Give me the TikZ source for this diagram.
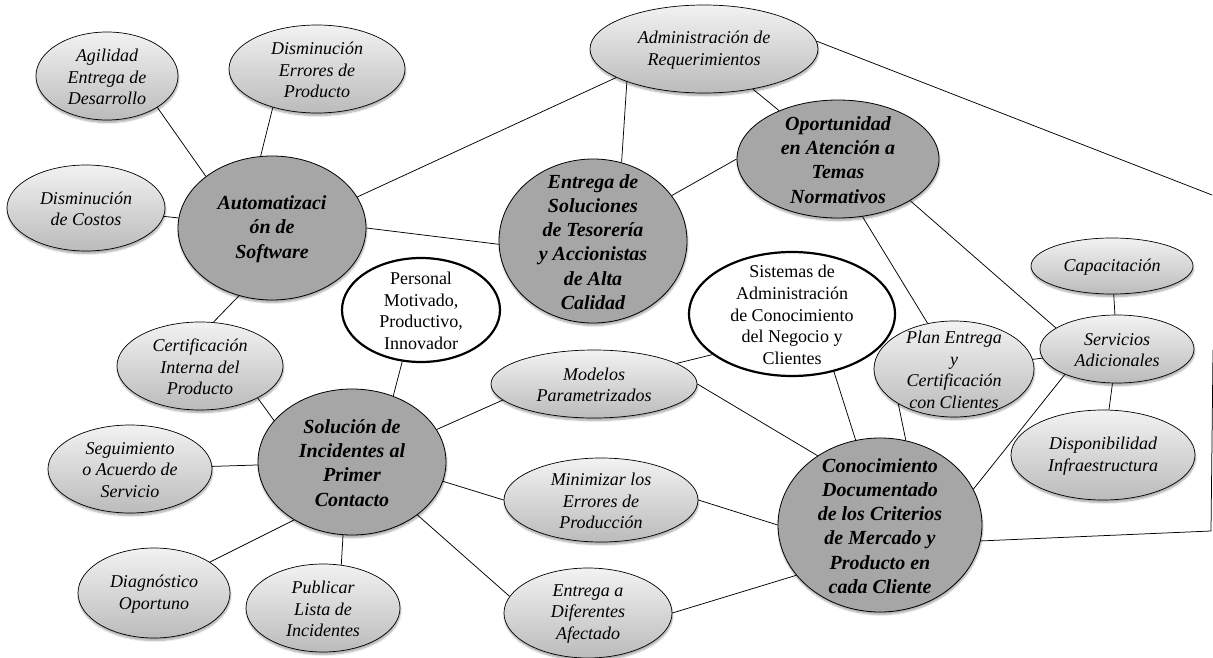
\documentclass[tikz,border=0pt]{standalone}
\usepackage{fontspec}
\setmainfont{Liberation Serif}
\usetikzlibrary{shapes.geometric,shadows.blur}

\definecolor{softTop}{HTML}{F2F2F2}
\definecolor{softBot}{HTML}{BBBBBB}
\definecolor{coreFill}{HTML}{A6A6A6}

\tikzset{
  link/.style={draw=black, line width=0.75pt},
  bshadow/.style={blur shadow={shadow xshift=0.5pt, shadow yshift=-2.5pt, shadow blur steps=6, shadow opacity=35}},
  soft/.style={ellipse, draw=black, line width=0.7pt, top color=softTop, bottom color=softBot, bshadow, inner sep=0pt},
  core/.style={ellipse, draw=black, line width=0.8pt, fill=coreFill, bshadow, inner sep=0pt},
  plain/.style={ellipse, draw=black, line width=2.2pt, fill=white, inner sep=0pt},
  tsoft/.style={align=center, inner sep=0pt, font=\fontsize{18}{21.6}\selectfont\itshape},
  tcore/.style={align=center, inner sep=0pt, font=\fontsize{20}{24.2}\selectfont\bfseries\itshape},
  tplain/.style={align=center, inner sep=0pt, font=\fontsize{18}{21.6}\selectfont},
}

% #1 shape style, #2 name, #3,#4 centre, #5,#6 radii, #7 text style, #8 text
\newcommand\bubble[8]{%
  \node[#1, minimum width=2*#5pt, minimum height=2*#6pt] (#2) at (#3,#4) {};
  \node[#7] (#2-txt) at ([yshift=-1pt]#2.center) {#8};}

\begin{document}
\begin{tikzpicture}[x=1pt, y=-1pt]
\useasboundingbox (0,0) rectangle (1213,658);

% ---- bubbles ----
\bubble{soft}{agil}{107}{76}{71}{44}{tsoft}{Agilidad\\Entrega de\\Desarrollo}
\bubble{soft}{errores}{317}{69}{88}{44}{tsoft}{Disminución\\Errores de\\Producto}
\bubble{soft}{costos}{86}{208}{79}{43}{tsoft}{Disminución\\de Costos}
\bubble{core}{auto}{272}{228}{94}{72}{tcore}{Automatizaci\\ón de\\Software}
\bubble{soft}{adm}{704}{49}{114}{44}{tsoft}{Administración de\\Requerimientos}
\bubble{core}{sol}{593}{241}{94}{82}{tcore}{Entrega de\\Soluciones\\de Tesorería\\y Accionistas\\de Alta\\Calidad}
\bubble{core}{opo}{838}{159}{101}{59}{tcore}{Oportunidad\\en Atención a\\Temas\\Normativos}
\bubble{plain}{pers}{421}{310}{79}{52}{tplain}{Personal\\Motivado,\\Productivo,\\Innovador}
\bubble{plain}{sis}{792}{314}{103}{62}{tplain}{Sistemas de\\Administración\\de Conocimiento\\del Negocio y\\Clientes}
\bubble{soft}{cap}{1112}{266}{81}{28}{tsoft}{Capacitación}
\bubble{soft}{serv}{1117}{349}{77}{34}{tsoft}{Servicios\\Adicionales}
\bubble{soft}{plan}{954}{369}{80}{48}{tsoft}{Plan Entrega\\y\\Certificación\\con Clientes}
\bubble{soft}{disp}{1103}{455}{92}{45}{tsoft}{Disponibilidad\\Infraestructura}
\bubble{core}{con}{880}{525}{102}{87}{tcore}{Conocimiento\\Documentado\\de los Criterios\\de Mercado y\\Producto en\\cada Cliente}
\bubble{soft}{cert}{200}{366}{83}{44}{tsoft}{Certificación\\Interna del\\Producto}
\bubble{core}{inc}{352}{462}{94}{73}{tcore}{Solución de\\Incidentes al\\Primer\\Contacto}
\bubble{soft}{seg}{130}{469}{82}{44}{tsoft}{Seguimiento\\o Acuerdo de\\Servicio}
\bubble{soft}{diag}{154}{593}{76}{45}{tsoft}{Diagnóstico\\Oportuno}
\bubble{soft}{pub}{323}{608}{77}{44}{tsoft}{Publicar\\Lista de\\Incidentes}
\bubble{soft}{mod}{594}{384}{103}{34}{tsoft}{Modelos\\Parametrizados}
\bubble{soft}{min}{601}{500}{97}{42}{tsoft}{Minimizar los\\Errores de\\Producción}
\bubble{soft}{dif}{588}{613}{84}{45}{tsoft}{Entrega a\\Diferentes\\Afectado}

% free ends of the long connector along the right margin
\coordinate (edgeA) at (1212,195);
\coordinate (edgeB) at (1213,350);
\coordinate (edgeC) at (1211,531);

% ---- connectors ----
\draw[link] (agil.-32) -- (auto.142);
\draw[link] (errores.221) -- (auto.99);
\draw[link] (costos) -- (auto);
\draw[link] (auto.20) -- (adm.198);
\draw[link] (auto.0) -- (sol.182);
\draw[link] (auto.244) -- (cert.73);
\draw[link] (adm.203) -- (sol.70);
\draw[link] (adm) -- (opo);
\draw[link] (adm.4) -- (edgeA);
\draw[link] (opo.180) -- (sol.30);
\draw[link] (opo.-67) -- (plan.120);
\draw[link] (opo.-30) -- (serv.161);
\draw[link] (cap) -- (serv);
\draw[link] (serv) -- (disp);
\draw[link] (serv) -- (plan);
\draw[link] (serv.206) -- (con.21);
\draw[link] (sis.-54) -- (con.106);
\draw[link] (plan.212) -- (con.73);
\draw[link] (mod.14) -- (sis.207);
\draw[link] (mod.0) -- (con.132);
\draw[link] (inc.21) -- (mod.190);
\draw[link] (inc.-12) -- (min.180);
\draw[link] (min.0) -- (con.180);
\draw[link] (inc.-39) -- (dif.168);
\draw[link] (dif.0) -- (con.211);
\draw[link] (pers.250) -- (inc.58);
\draw[link] (cert.-29) -- (inc.152);
\draw[link] (seg) -- (inc);
\draw[link] (diag.29) -- (inc.225);
\draw[link] (inc.263) -- (pub.67);
\draw[link] (con.-9) -- (edgeC) -- (edgeB);
\end{tikzpicture}
\end{document}
